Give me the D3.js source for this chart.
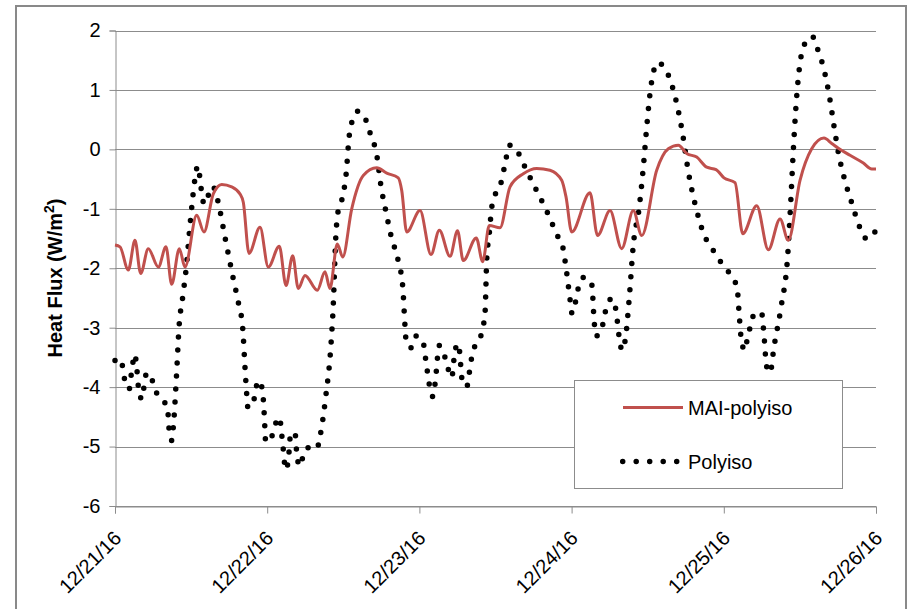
<!DOCTYPE html>
<html>
<head>
<meta charset="utf-8">
<script src="https://cdn.jsdelivr.net/npm/d3@7"></script>
<style>
  body { margin: 0; background: #fff; }
  svg text { font-family: "Liberation Sans", Arial, sans-serif; fill: #000; }
</style>
</head>
<body>
<svg id="chart" width="908" height="609"></svg>
<script>
// hours since 12/21/16 00:00 and heat flux (W/m2)
var maiHours = [0, 0.79, 2.10, 3.15, 4.05, 5.25, 6.83, 8.04, 8.94, 10.14, 11.04, 12.88, 14.03, 15.50, 16.83, 18.40,
  19.71, 20.23, 21.13, 22.87, 24.17, 25.91, 26.97, 28.02, 28.90, 29.96, 31.90, 33.11, 33.90, 35.05, 35.91, 37.33,
  39.15, 41.27, 42.85, 44.67, 45.21, 46.00, 48.10, 49.83, 51.14, 52.83, 54.01, 54.92, 56.97, 57.98, 59.02, 60.71,
  62.29, 64.38, 66.50, 68.59, 70.44, 71.12, 72.02, 74.90, 76.09, 78.06, 79.90, 81.73, 83.06, 85.42, 87.25, 88.83,
  90.15, 91.73, 93.31, 94.78, 96.03, 97.77, 98.99, 101.19, 103.02, 104.87, 106.17, 108.02, 109.86, 111.80, 113.02,
  114.06, 115.90, 118.00, 119.33, 120];
var maiFlux = [-1.61, -1.64, -2.03, -1.53, -2.09, -1.67, -1.98, -1.64, -2.27, -1.67, -1.98, -1.11, -1.39, -0.75, -0.59, -0.63,
  -0.75, -0.89, -1.75, -1.31, -1.98, -1.63, -2.29, -1.79, -2.34, -2.12, -2.37, -2.06, -2.34, -1.59, -1.81, -1.00,
  -0.44, -0.31, -0.40, -0.48, -0.69, -1.39, -1.03, -1.77, -1.36, -1.80, -1.37, -1.87, -1.49, -1.89, -1.28, -1.32,
  -0.63, -0.41, -0.32, -0.35, -0.52, -0.80, -1.39, -0.73, -1.45, -1.03, -1.67, -1.03, -1.45, -0.35, 0.01, 0.07,
  -0.07, -0.13, -0.30, -0.34, -0.48, -0.56, -1.42, -0.95, -1.69, -1.17, -1.53, -0.52, 0.01, 0.19, 0.10,
  0.02, -0.10, -0.23, -0.33, -0.33];

var polyHours = [0, 0.52, 1.31, 1.58, 2.25, 2.52, 3.15, 3.42, 3.83, 4.30, 4.57, 5.00, 5.68, 6.31, 7.25, 8.25, 8.56, 8.94,
  9.19, 9.70, 10.09, 10.68, 11.20, 11.94, 12.62, 13.04, 13.67, 14.03, 15.41, 16.13, 17.35, 18.56, 19.44, 20.14, 20.50,
  20.77, 20.93, 21.56, 22.60, 23.23, 23.54, 23.76, 24.44, 25.07, 25.91, 26.44, 26.92, 27.33, 27.71, 28.38, 28.75,
  29.28, 29.69, 30.48, 31.81, 32.33, 33.22, 34.06, 34.42, 34.80, 35.12, 35.75, 36.43, 36.95, 37.33, 38.27, 39.53,
  40.21, 41.36, 41.90, 42.69, 43.52, 44.67, 45.37, 45.73, 45.89, 46.63, 47.46, 48.52, 49.15, 49.78, 50.10, 50.46,
  51.14, 52.04, 53.09, 53.61, 54.14, 54.83, 55.46, 56.14, 56.61, 57.56, 58.35, 58.61, 59.02, 59.40, 59.92, 60.82,
  61.66, 62.13, 63.50, 64.39, 66.23, 68.08, 69.75, 70.60, 71.23, 71.75, 72.07, 72.65, 73.06, 73.96, 75.17, 75.58,
  75.85, 76.59, 77.54, 78.33, 79.00, 79.48, 79.95, 80.53, 81.10, 81.73, 82.68, 83.31, 83.84, 84.47, 84.79, 85.51,
  86.73, 88.19, 89.46, 90.40, 91.73, 92.93, 93.98, 96.30, 97.50, 98.13, 98.45, 98.82, 99.35, 99.74, 100.29, 100.84,
  101.98, 102.23, 102.77, 103.29, 103.92, 105.02, 106.08, 106.55, 106.96, 107.34, 107.66, 108.13, 108.65, 109.96,
  110.75, 111.96, 112.75, 113.38, 114.06, 114.96, 116.17, 117.48, 118.60, 119.64, 120];
var polyFlux = [-3.55, -3.51, -3.70, -3.92, -4.03, -3.82, -3.45, -3.67, -4.12, -4.20, -3.99, -3.76, -3.83, -4.04, -4.21, -4.32, -4.75, -4.90,
  -4.68, -3.80, -3.00, -2.48, -2.03, -1.15, -0.49, -0.28, -0.72, -0.92, -0.62, -0.83, -1.48, -2.13, -2.57, -3.01, -3.67,
  -4.12, -4.33, -4.33, -3.89, -4.03, -4.47, -4.91, -4.91, -4.69, -4.51, -4.95, -5.39, -5.23, -4.78, -4.77, -5.22,
  -5.33, -5.13, -5.02, -5.04, -4.83, -4.17, -3.28, -2.62, -1.51, -1.08, -0.86, -0.43, 0.24, 0.45, 0.64, 0.50,
  0.28, -0.15, -0.59, -1.03, -1.45, -1.88, -2.31, -2.97, -3.20, -3.34, -3.14, -3.22, -3.66, -4.08, -4.16, -3.95,
  -3.30, -3.50, -3.84, -3.39, -3.27, -3.94, -3.99, -3.56, -3.35, -3.18, -2.75, -1.87, -1.42, -0.98, -0.77, -0.58,
  -0.16, 0.07, -0.04, -0.24, -0.64, -1.04, -1.45, -1.64, -2.08, -2.52, -2.76, -2.55, -2.33, -2.15, -2.27, -2.92,
  -3.14, -3.07, -2.64, -2.51, -2.71, -3.14, -3.38, -3.15, -2.49, -1.61, -0.96, -0.30, 0.37, 1.03, 1.24, 1.46,
  1.36, 0.94, 0.29, -0.37, -1.03, -1.45, -1.64, -2.01, -2.17, -2.36, -2.81, -3.25, -3.38, -3.16, -2.95, -2.75,
  -2.76, -2.99, -3.66, -3.76, -3.32, -2.66, -1.78, -0.90, -0.02, 0.66, 1.10, 1.53, 1.75, 1.90,
  1.70, 1.27, 0.83, 0.39, -0.05, -0.47, -0.90, -1.32, -1.51, -1.40, -1.38];

var yTicks = [-6, -5, -4, -3, -2, -1, 0, 1, 2];
var seriesNames = ["MAI-polyiso", "Polyiso"];

var start = new Date(2016, 11, 21);
var toDate = h => new Date(start.getTime() + h * 3600000);
var dayTicks = d3.range(0, 6).map(d => toDate(d * 24));

var mai = maiHours.map((h, i) => ({ t: toDate(h), v: maiFlux[i] }));
var poly = polyHours.map((h, i) => ({ t: toDate(h), v: polyFlux[i] }));

var svg = d3.select("#chart");
var margin = { left: 115, right: 876, top: 30.5, bottom: 506 };

var x = d3.scaleTime().domain([start, toDate(120)]).range([margin.left, margin.right]);
var y = d3.scaleLinear().domain([-6, 2]).range([margin.bottom, margin.top]);

// outer chart border
svg.append("rect")
  .attr("x", 16).attr("y", 6).attr("width", 890).attr("height", 640)
  .attr("fill", "#fff").attr("stroke", "#898989").attr("stroke-width", 2);

// gridlines
svg.append("g")
  .selectAll("line")
  .data(yTicks)
  .join("line")
    .attr("x1", margin.left).attr("x2", margin.right)
    .attr("y1", d => Math.round(y(d)) + 0.5).attr("y2", d => Math.round(y(d)) + 0.5)
    .attr("stroke", "#8c8c8c").attr("stroke-width", 1);

// y axis (plain hyphen minus like the original)
var yAxis = svg.append("g")
  .attr("transform", `translate(${margin.left + 0.5},0)`)
  .call(d3.axisLeft(y).tickValues(yTicks).tickSize(6).tickPadding(9).tickFormat(d => String(d)));
yAxis.select(".domain").attr("stroke", "#8c8c8c");
yAxis.selectAll(".tick line").attr("stroke", "#8c8c8c");
yAxis.selectAll("text").style("font-size", "20px").attr("fill", "#000");

// x axis
var xAxis = svg.append("g")
  .attr("transform", `translate(0,${Math.round(margin.bottom) + 0.5})`)
  .call(d3.axisBottom(x).tickValues(dayTicks).tickSize(7).tickFormat(d3.timeFormat("%m/%d/%y")));
xAxis.select(".domain").attr("stroke", "#8c8c8c");
xAxis.selectAll(".tick line").attr("stroke", "#8c8c8c");
xAxis.selectAll("text")
  .style("font-size", "20px")
  .attr("fill", "#000")
  .attr("text-anchor", "end")
  .attr("y", 0).attr("dy", 0)
  .attr("transform", "translate(7,33) rotate(-45)");

// y label
var yLabel = svg.append("text")
  .attr("transform", "translate(62,278) rotate(-90)")
  .attr("text-anchor", "middle")
  .style("font-size", "20px")
  .style("font-weight", "bold");
yLabel.append("tspan").text("Heat Flux (W/m");
yLabel.append("tspan").attr("dy", -8).style("font-size", "14px").text("2");
yLabel.append("tspan").attr("dy", 8).text(")");

var line = d3.line().x(d => x(d.t)).y(d => y(d.v)).curve(d3.curveMonotoneX);

// Polyiso dotted
svg.append("path")
  .datum(poly)
  .attr("d", line)
  .attr("fill", "none")
  .attr("stroke", "#000")
  .attr("stroke-width", 5.5)
  .attr("stroke-linecap", "round")
  .attr("stroke-dasharray", "0,13");

// MAI-polyiso
svg.append("path")
  .datum(mai)
  .attr("d", line)
  .attr("fill", "none")
  .attr("stroke", "#c0504d")
  .attr("stroke-width", 3)
  .attr("stroke-linejoin", "round");

// legend
var lg = svg.append("g");
lg.append("rect")
  .attr("x", 574.5).attr("y", 380.5).attr("width", 268).attr("height", 108)
  .attr("fill", "#fff").attr("stroke", "#8c8c8c").attr("stroke-width", 1);
lg.append("line")
  .attr("x1", 623).attr("x2", 683).attr("y1", 407.5).attr("y2", 407.5)
  .attr("stroke", "#c0504d").attr("stroke-width", 3);
lg.append("line")
  .attr("x1", 622.7).attr("x2", 676.8).attr("y1", 461.5).attr("y2", 461.5)
  .attr("stroke", "#000").attr("stroke-width", 5.5)
  .attr("stroke-linecap", "round").attr("stroke-dasharray", "0,13.5");
lg.selectAll("text.lbl")
  .data(seriesNames)
  .join("text")
    .attr("class", "lbl")
    .attr("x", 688)
    .attr("y", (d, i) => i === 0 ? 414.5 : 468.5)
    .style("font-size", "20px")
    .text(d => d);
</script>
</body>
</html>
